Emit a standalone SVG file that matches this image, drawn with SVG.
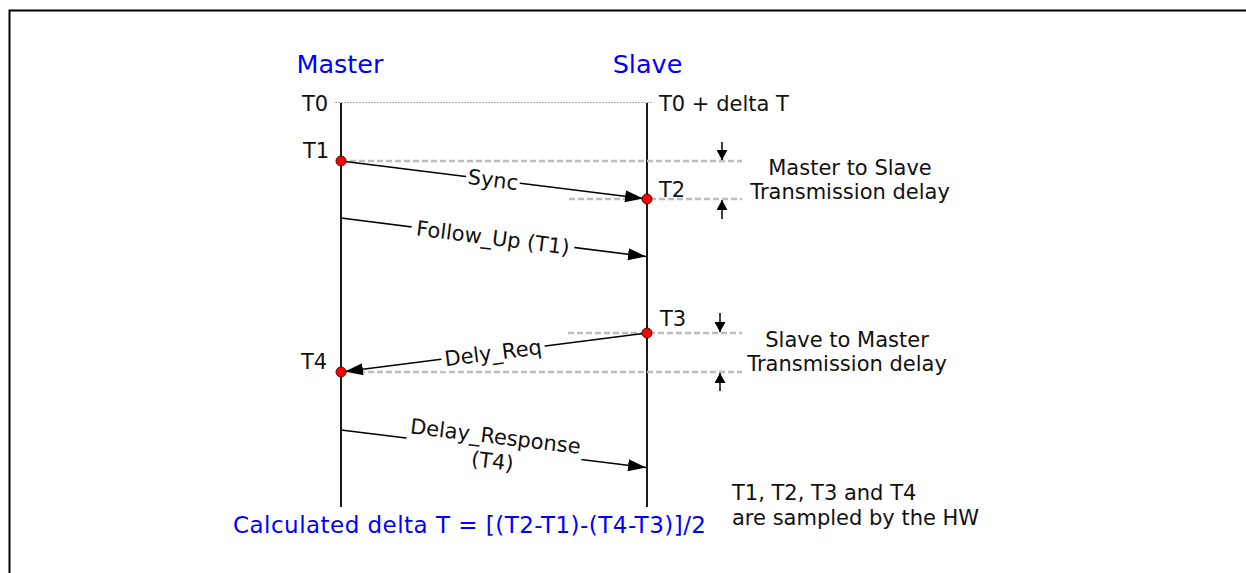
<svg xmlns="http://www.w3.org/2000/svg" width="1246" height="573" viewBox="0 0 1246 573">
<style>
  text { font-family: "DejaVu Sans", Verdana, sans-serif; fill: #111; }
  .lbl { font-size: 21px; }
  .title { font-size: 25.5px; fill: #0000FF; }
  .formula { font-size: 23px; fill: #0000FF; }
  .life { stroke: #000; stroke-width: 1.8; fill: none; }
  .msg { stroke: #000; stroke-width: 1.6; fill: none; marker-end: url(#ah); }
  .dash { stroke: #BDBDBD; stroke-width: 2.3; stroke-dasharray: 6 3; fill: none; }
  .dot0 { stroke: #B0B0B0; stroke-width: 1; stroke-dasharray: 2 1; fill: none; }
  .tick { stroke: #000; stroke-width: 1.5; fill: none; marker-end: url(#sah); }
  .pt { fill: #FF0000; stroke: #400; stroke-width: 0.9; }
  .bg { fill: #fff; }
</style>
<defs>
  <marker id="ah" markerUnits="userSpaceOnUse" markerWidth="18" markerHeight="12" refX="18" refY="6" orient="auto">
    <path d="M0,0 L18,6 L0,12 z" fill="#000"/>
  </marker>
  <marker id="sah" markerUnits="userSpaceOnUse" markerWidth="10" markerHeight="11" refX="10" refY="5.5" orient="auto">
    <path d="M0,0 L10,5.5 L0,11 z" fill="#000"/>
  </marker>
</defs>
<rect width="1246" height="573" fill="#fff"/>
<path d="M9.5,573 V10.5 H1246" stroke="#000" stroke-width="2" fill="none"/>

<g id="master">
  <text class="title" x="340" y="73" text-anchor="middle">Master</text>
  <line class="life" x1="341" y1="103" x2="341" y2="507"/>
</g>
<g id="slave">
  <text class="title" x="647.5" y="73" text-anchor="middle">Slave</text>
  <line class="life" x1="647" y1="103" x2="647" y2="507"/>
</g>

<g id="time-t0">
  <line class="dot0" x1="335" y1="102.5" x2="652" y2="102.5"/>
  <text class="lbl" x="302" y="111">T0</text>
  <text class="lbl" x="659" y="111">T0 + delta T</text>
</g>

<g id="guides">
  <line class="dash" x1="341" y1="161" x2="742" y2="161"/>
  <line class="dash" x1="569" y1="199" x2="742" y2="199"/>
  <line class="dash" x1="568" y1="333" x2="742" y2="333"/>
  <line class="dash" x1="341" y1="372" x2="742" y2="372"/>
</g>

<g id="connectors">
  <line class="msg" x1="341" y1="161" x2="643" y2="198.5"/>
  <line class="msg" x1="341" y1="218" x2="646" y2="256.5"/>
  <line class="msg" x1="647" y1="333" x2="345" y2="371.5"/>
  <line class="msg" x1="341" y1="430" x2="646" y2="467.5"/>
  <line class="tick" x1="722" y1="142" x2="722" y2="160"/>
  <line class="tick" x1="722" y1="219" x2="722" y2="200"/>
  <line class="tick" x1="720" y1="313" x2="720" y2="332"/>
  <line class="tick" x1="720" y1="391" x2="720" y2="373"/>
</g>

<g id="label-sync" transform="rotate(7.15 493 179.5)">
  <rect class="bg" x="466" y="170" width="54" height="19"/>
  <text class="lbl" x="493" y="179.5" dy="0.36em" text-anchor="middle">Sync</text>
</g>
<g id="label-followup" transform="rotate(7.2 493 237.5)">
  <rect class="bg" x="411" y="226" width="164" height="24"/>
  <text class="lbl" x="493" y="237.5" dy="0.36em" text-anchor="middle">Follow_Up (T1)</text>
</g>
<g id="label-delyreq" transform="rotate(-7.26 493 352.6)">
  <rect class="bg" x="441" y="341" width="104" height="24"/>
  <text class="lbl" x="493" y="352.6" dy="0.36em" text-anchor="middle">Dely_Req</text>
</g>
<g id="label-delayresp" transform="rotate(6.9 494 448.5)">
  <rect class="bg" x="406" y="424" width="176" height="50"/>
  <text class="lbl" x="494" y="436" dy="0.36em" text-anchor="middle">Delay_Response</text>
  <text class="lbl" x="494" y="461" dy="0.36em" text-anchor="middle">(T4)</text>
</g>

<g id="t1">
  <text class="lbl" x="303" y="158">T1</text>
  <circle class="pt" cx="341" cy="161" r="5"/>
</g>
<g id="t2">
  <text class="lbl" x="659" y="197">T2</text>
  <circle class="pt" cx="647" cy="199" r="5"/>
</g>
<g id="t3">
  <text class="lbl" x="660" y="326">T3</text>
  <circle class="pt" cx="647" cy="333" r="5"/>
</g>
<g id="t4">
  <text class="lbl" x="301" y="369">T4</text>
  <circle class="pt" cx="341" cy="372" r="5"/>
</g>

<g id="note-m2s">
  <text class="lbl" x="850" y="175" text-anchor="middle">Master to Slave</text>
  <text class="lbl" x="850" y="199" text-anchor="middle">Transmission delay</text>
</g>
<g id="note-s2m">
  <text class="lbl" x="847" y="347" text-anchor="middle">Slave to Master</text>
  <text class="lbl" x="847" y="371" text-anchor="middle">Transmission delay</text>
</g>
<g id="note-hw">
  <text class="lbl" x="732" y="500">T1, T2, T3 and T4</text>
  <text class="lbl" x="732" y="525">are sampled by the HW</text>
</g>
<g id="formula">
  <text class="formula" x="233" y="533" textLength="473" lengthAdjust="spacing">Calculated delta T = [(T2-T1)-(T4-T3)]/2</text>
</g>
</svg>
